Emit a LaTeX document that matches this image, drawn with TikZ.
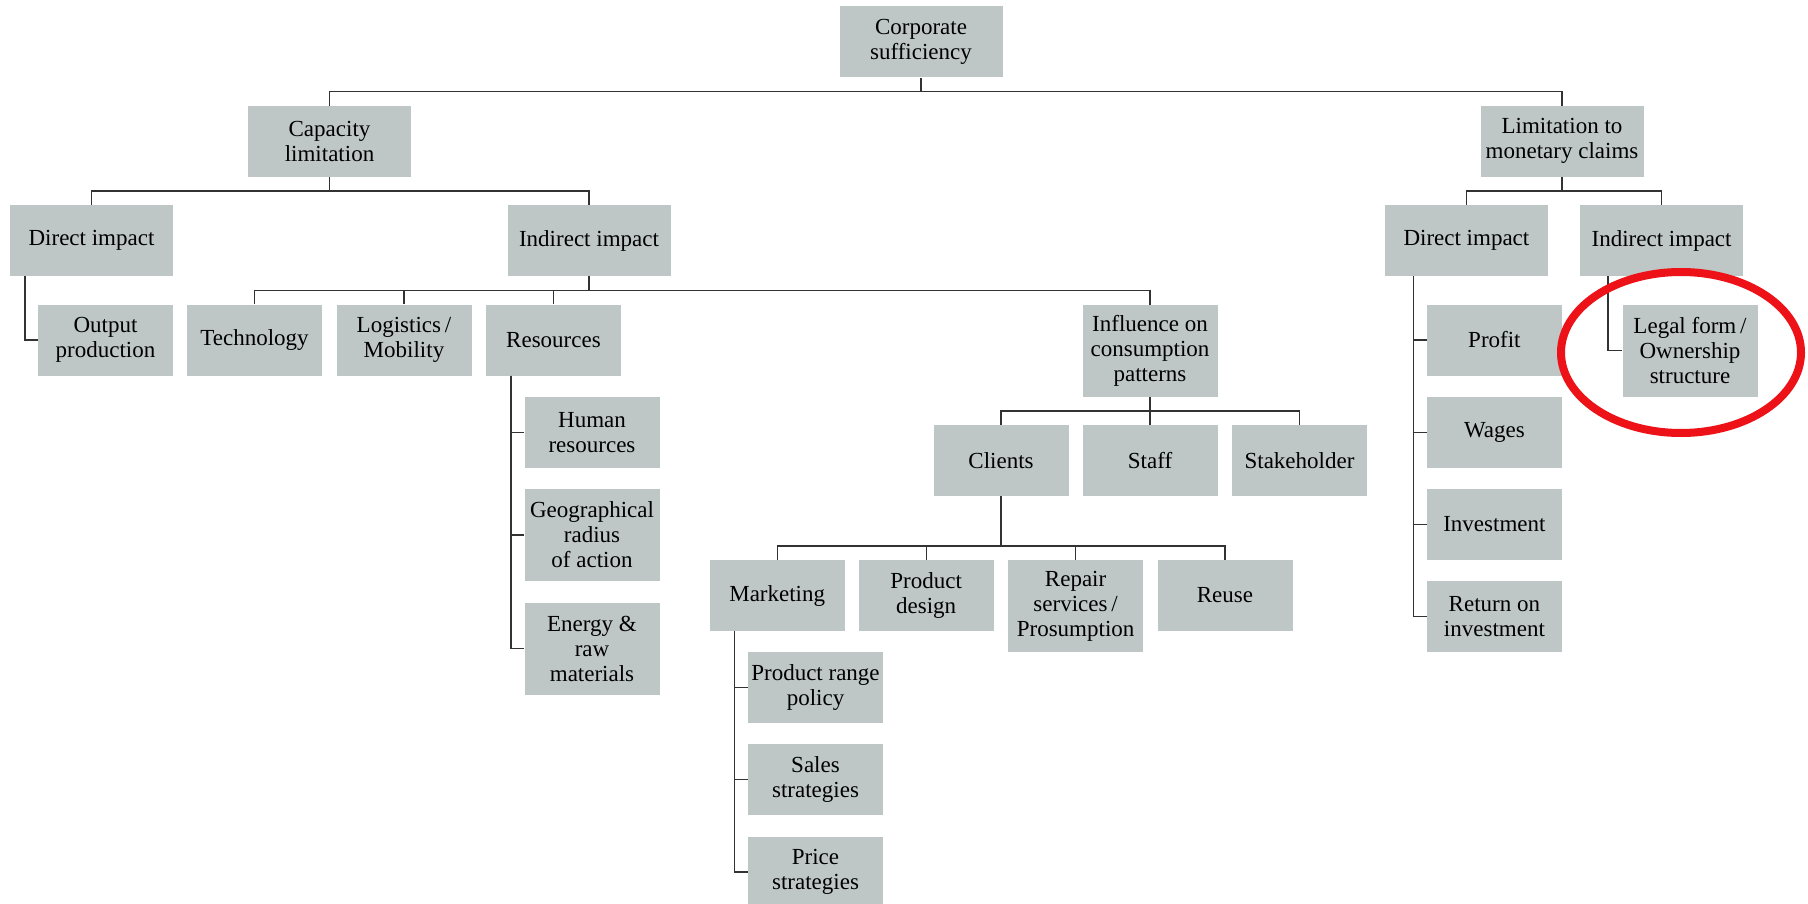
\documentclass[tikz,border=0pt]{standalone}
\usepackage{fontspec}
\setmainfont{Liberation Serif}
\usepackage{tikz}
\definecolor{boxgrey}{RGB}{191,198,198}
\definecolor{linegrey}{RGB}{50,50,50}
\definecolor{markred}{RGB}{236,18,24}
\tikzstyle{box} = [rectangle, fill=boxgrey, minimum width=135pt, minimum height=71pt, inner sep=0pt, align=center, font=\fontsize{23}{25}\selectfont]
\tikzstyle{wide} = [box, minimum width=163pt]
\tikzstyle{tall} = [box, minimum height=92pt]
\tikzstyle{link} = [draw=linegrey, line width=1.4pt]

\begin{document}
\begin{tikzpicture}[x=1pt,y=-1pt]
\useasboundingbox (0,0) rectangle (1808,904);
\node[wide] (corp) at (921,42) {Corporate\\sufficiency};
\node[wide] (cap) at (329.5,141.3) {Capacity\\limitation};
\node[wide] (lim) at (1562,141.3) {Limitation to\\monetary claims};
\node[wide] (cdir) at (91.5,240.7) {Direct impact};
\node[wide] (cind) at (589,240.7) {Indirect impact};
\node[wide] (mdir) at (1466.4,240.7) {Direct impact};
\node[wide] (mind) at (1661.6,240.7) {Indirect impact};
\node[box] (output) at (105.5,340) {Output\\production};
\node[box] (tech) at (254.5,340) {Technology};
\node[box] (logi) at (404,340) {Logistics\,/\\Mobility};
\node[box] (res) at (553.5,340) {Resources};
\node[tall] (infl) at (1150,350.7) {Influence on\\consumption\\patterns};
\node[box] (profit) at (1494.4,340) {Profit};
\node[tall] (legal) at (1690,350.7) {Legal form\,/\\Ownership\\structure};
\node[box] (human) at (592,432.3) {Human\\resources};
\node[tall] (geo) at (592,535) {Geographical\\radius\\of action};
\node[tall] (energy) at (592,648.5) {Energy \&\\raw\\materials};
\node[box] (clients) at (1001,460.5) {Clients};
\node[box] (staff) at (1150,460.5) {Staff};
\node[box] (stake) at (1299.5,460.5) {Stakeholder};
\node[box] (wages) at (1494.4,432.3) {Wages};
\node[box] (invest) at (1494.4,524.3) {Investment};
\node[box] (roi) at (1494.4,616.7) {Return on\\investment};
\node[box] (mkt) at (777.2,595.5) {Marketing};
\node[box] (pdesign) at (926.2,595.5) {Product\\design};
\node[tall] (repair) at (1075.6,606) {Repair\\services\,/\\Prosumption};
\node[box] (reuse) at (1225,595.5) {Reuse};
\node[box] (prange) at (815.5,687.4) {Product range\\policy};
\node[box] (sales) at (815.5,779.7) {Sales\\strategies};
\node[box] (price) at (815.5,872) {Price\\strategies};
\foreach \c/\p in {cap/corp, lim/corp, cdir/cap, cind/cap, mdir/lim, mind/lim, tech/cind, logi/cind, res/cind, infl/cind, clients/infl, staff/infl, stake/infl, mkt/clients, pdesign/clients, repair/clients, reuse/clients}
  \draw[link] (\c.north) -- ++(0,-14) -| (\p.south);
\draw[link] (cdir.south west) ++(15,0) |- (output.west);
\foreach \c in {human,geo,energy}
  \draw[link] (res.south west) ++(25,0) |- (\c.west);
\foreach \c in {prange,sales,price}
  \draw[link] (mkt.south west) ++(25,0) |- (\c.west);
\foreach \c in {profit,wages,invest,roi}
  \draw[link] (mdir.south west) ++(29,0) |- (\c.west);
\draw[link] (mind.south west) ++(28,0) |- (legal.west);
\draw[markred, line width=8pt] (1681,352.5) ellipse [x radius=120pt, y radius=80.5pt];
\end{tikzpicture}
\end{document}
